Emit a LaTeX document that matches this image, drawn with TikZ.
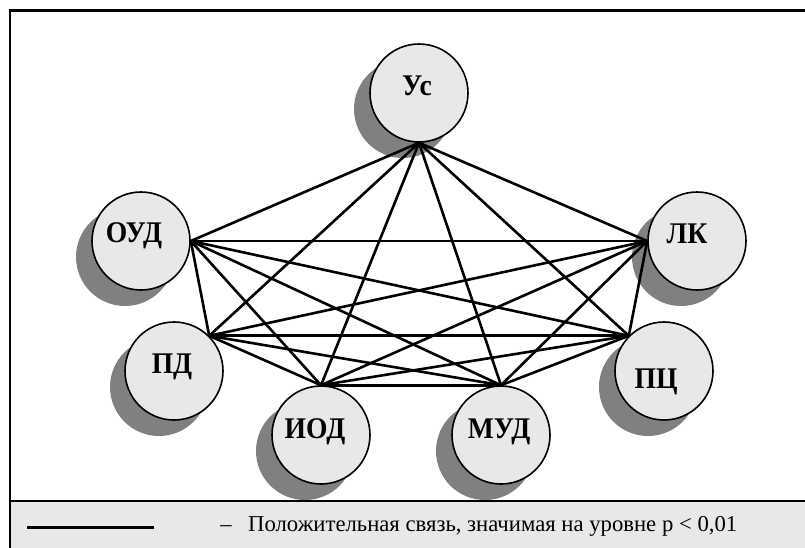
\documentclass[tikz,border=0pt]{standalone}
\usepackage{fontspec}
\setmainfont{Liberation Serif}

\definecolor{svetlo}{RGB}{232,232,232}
\definecolor{ten}{RGB}{128,128,128}

\tikzset{
    krug/.style={circle, draw, line width=1.6pt, fill=svetlo, minimum size=98pt, inner sep=0pt},
    bukvy/.style={font=\fontsize{30}{30}\selectfont\bfseries, inner sep=0pt, anchor=base, xscale=0.92},
    svyaz/.style={line width=2.6pt}
}

\begin{document}
\begin{tikzpicture}[x=1pt,y=-1pt]
    \clip (0,0) rectangle (805,547);
    \draw[line width=2.5pt] (10,10.5) rectangle (820,560);
    \draw[line width=2.5pt, fill=svetlo] (10,501) rectangle (820,560);

    % shadows
    \fill[ten] (403,109) circle (49pt);
    \fill[ten] (125,257) circle (49pt);
    \fill[ten] (681,257) circle (49pt);
    \fill[ten] (159,387) circle (49pt);
    \fill[ten] (648,387) circle (49pt);
    \fill[ten] (305,451) circle (49pt);
    \fill[ten] (485,451) circle (49pt);

    % circles
    \node[krug] (us)  at (419,93)  {};
    \node[krug] (oud) at (141,241) {};
    \node[krug] (lk)  at (697,241) {};
    \node[krug] (pd)  at (174,371) {};
    \node[krug] (pc)  at (664,371) {};
    \node[krug] (iod) at (321,435) {};
    \node[krug] (mud) at (501,435) {};

    \node[bukvy] (usT)  at (417,95)  {Ус};
    \node[bukvy] (oudT) at (134,242) {ОУД};
    \node[bukvy] (lkT)  at (687,243) {ЛК};
    \node[bukvy] (pdT)  at (172,373) {ПД};
    \node[bukvy] (pcT)  at (656,388) {ПЦ};
    \node[bukvy] (iodT) at (315,438) {ИОД};
    \node[bukvy] (mudT) at (499,438) {МУД};

    % links
    \draw[svyaz] (us.south) -- (oud.east);
    \draw[svyaz] (us.south) -- (lk.west);
    \draw[svyaz] (us.south) -- (pd.north east);
    \draw[svyaz] (us.south) -- (pc.north west);
    \draw[svyaz] (us.south) -- (iod.north);
    \draw[svyaz] (us.south) -- (mud.north);
    \draw[svyaz] (oud.east) -- (lk.west);
    \draw[svyaz] (oud.east) -- (pd.north east);
    \draw[svyaz] (oud.east) -- (pc.north west);
    \draw[svyaz] (oud.east) -- (iod.north);
    \draw[svyaz] (oud.east) -- (mud.north);
    \draw[svyaz] (lk.west) -- (pd.north east);
    \draw[svyaz] (lk.west) -- (pc.north west);
    \draw[svyaz] (lk.west) -- (iod.north);
    \draw[svyaz] (lk.west) -- (mud.north);
    \draw[svyaz] (pd.north east) -- (pc.north west);
    \draw[svyaz] (pd.north east) -- (iod.north);
    \draw[svyaz] (pd.north east) -- (mud.north);
    \draw[svyaz] (pc.north west) -- (iod.north);
    \draw[svyaz] (pc.north west) -- (mud.north);
    \draw[svyaz] (iod.north) -- (mud.north);

    % legend
    \coordinate (leg1) at (27,527);
    \coordinate (leg2) at (154,527);
    \draw[line width=3pt] (leg1) -- (leg2);
    \node[font=\fontsize{22.7}{22.7}\selectfont, inner sep=0pt, anchor=base] (tire) at (226,531) {–};
    \node[font=\fontsize{22.7}{22.7}\selectfont, inner sep=0pt, anchor=base west] (legT) at (248,531) {Положительная связь, значимая на уровне р < 0,01};
\end{tikzpicture}
\end{document}
